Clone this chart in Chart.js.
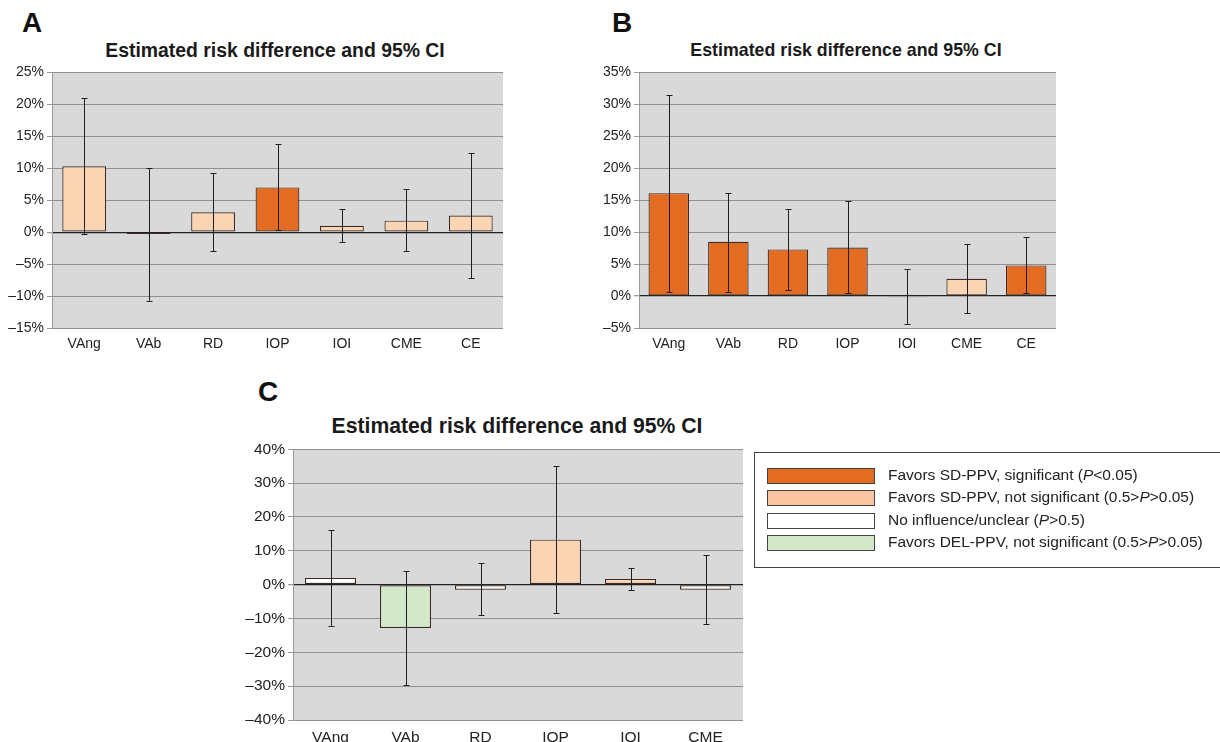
<!DOCTYPE html>
<html>
<head>
<meta charset="utf-8">
<script src="https://cdn.jsdelivr.net/npm/chart.js@4.4.0/dist/chart.umd.min.js"></script>
<style>
  body { margin:0; width:1220px; height:742px; overflow:hidden; background:#fff;
         font-family:"Liberation Sans", Arial, sans-serif; position:relative; }
  .abs { position:absolute; }
  .letter { font-weight:bold; font-size:28px; color:#111; }
  .title { font-weight:bold; color:#1a1a1a; text-align:center; white-space:nowrap; }
  canvas { position:absolute; }
  #legend { left:754px; top:452px; width:470px; height:116px; border:1px solid #444; box-sizing:border-box; }
  .row { position:absolute; left:12px; height:16px; font-size:15.5px; color:#222; white-space:nowrap; }
  .sw { position:absolute; left:0; top:0; width:108px; height:16px; border:1px solid #444; box-sizing:border-box; }
  .row span.t { position:absolute; left:121px; top:-2px; }
</style>
</head>
<body>
<div class="abs letter" style="left:22px;top:7px;">A</div>
<div class="abs letter" style="left:612px;top:7px;">B</div>
<div class="abs letter" style="left:258px;top:376px;">C</div>

<div class="abs title" style="left:75px;width:400px;top:39px;font-size:19.4px;">Estimated risk difference and 95% CI</div>
<div class="abs title" style="left:646px;width:400px;top:40px;font-size:17.8px;">Estimated risk difference and 95% CI</div>
<div class="abs title" style="left:317px;width:400px;top:414px;font-size:21.2px;">Estimated risk difference and 95% CI</div>

<canvas id="cA" style="left:0;top:61px;" width="520" height="297"></canvas>
<canvas id="cB" style="left:590px;top:61px;" width="483" height="297"></canvas>
<canvas id="cC" style="left:240px;top:437px;" width="520" height="313"></canvas>

<div id="legend" class="abs"></div>

<script>
// categories
var catsAB = ["VAng", "VAb", "RD", "IOP", "IOI", "CME", "CE"];
var catsC = ["VAng", "VAb", "RD", "IOP", "IOI", "CME"];

// panel A (risk difference, %)
var estA  = [10.3, -0.3, 3.1, 7.0, 1.0, 1.8, 2.6];
var lowA  = [-0.3, -10.7, -3.0, 0.3, -1.5, -3.0, -7.2];
var highA = [21.0, 10.0, 9.2, 13.8, 3.7, 6.7, 12.4];
var grpA  = ["ns", "none", "ns", "sig", "ns", "ns", "ns"];

// panel B
var estB  = [16.1, 8.5, 7.3, 7.6, -0.2, 2.7, 4.8];
var lowB  = [0.7, 0.7, 1.0, 0.4, -4.4, -2.7, 0.4];
var highB = [31.4, 16.2, 13.6, 14.8, 4.3, 8.2, 9.3];
var grpB  = ["sig", "sig", "sig", "sig", "none", "ns", "sig"];

// panel C
var estC  = [2.0, -12.8, -1.5, 13.3, 1.7, -1.5];
var lowC  = [-12.1, -29.8, -9.1, -8.5, -1.7, -11.7];
var highC = [16.1, 3.9, 6.5, 35.2, 5.0, 8.8];
var grpC  = ["none", "del", "none", "ns", "ns", "none"];

// legend
var legendKeys = ["sig", "ns", "none", "del"];
var legendText = [
	"Favors SD-PPV, significant (<i>P</i>&lt;0.05)",
	"Favors SD-PPV, not significant (0.5&gt;<i>P</i>&gt;0.05)",
	"No influence/unclear (<i>P</i>&gt;0.5)",
	"Favors DEL-PPV, not significant (0.5&gt;<i>P</i>&gt;0.05)"
];

var fillOf = {
	sig: "#E46C22",
	ns: "#FBD4B4",
	none: "#FFFFFF",
	del: "#D3E7C9"
};
var swatchOf = {
	sig: "#E46C22",
	ns: "#F9C5A0",
	none: "#FFFFFF",
	del: "#D3E7C9"
};

var plotBg = {
	id: "plotBg",
	beforeDraw: function(chart){
		var a = chart.chartArea, c = chart.ctx;
		c.save();
		c.fillStyle = "#D9D9D9";
		c.fillRect(a.left, a.top, a.right - a.left, a.bottom - a.top);
		c.restore();
	}
};

var errBars = {
	id: "errBars",
	afterDatasetsDraw: function(chart, args, opts){
		var c = chart.ctx;
		var y = chart.scales.y;
		var meta = chart.getDatasetMeta(0);
		c.save();
		c.strokeStyle = "#1e1e1e";
		c.lineWidth = 1;
		meta.data.forEach(function(bar, i){
			var x = Math.round(bar.x) + 0.5;
			var yl = Math.round(y.getPixelForValue(opts.low[i])) + 0.5;
			var yh = Math.round(y.getPixelForValue(opts.high[i])) + 0.5;
			c.beginPath();
			c.moveTo(x, yh); c.lineTo(x, yl);
			c.moveTo(x - 3, yh); c.lineTo(x + 3, yh);
			c.moveTo(x - 3, yl); c.lineTo(x + 3, yl);
			c.stroke();
		});
		c.restore();
	}
};

function riskChart(id, cats, est, low, high, grp, yMin, yMax, step, yw, fs){
	var ctx = document.getElementById(id);
	var config = {
		type: "bar",
		data: {
			labels: cats,
			datasets: [
				{
					data: est,
					backgroundColor: grp.map(function(g){ return fillOf[g]; }),
					borderColor: "#3a2c24",
					borderWidth: 1.2,
					borderSkipped: false,
					categoryPercentage: 1,
					barPercentage: 0.68
				}
			]
		},
		options: {
			responsive: false,
			animation: false,
			layout: { padding: { top: 10, right: 17, left: 0, bottom: 0 } },
			plugins: {
				legend: { display: false },
				tooltip: { enabled: false },
				errBars: { low: low, high: high }
			},
			scales: {
				x: {
					grid: { display: false },
					border: { display: false },
					ticks: { color: "#222", font: { family: "Liberation Sans", size: fs }, padding: 0 },
					afterFit: function(s){ s.height = 30; }
				},
				y: {
					min: yMin,
					max: yMax,
					border: { color: "#9a9a9a" },
					grid: {
						color: function(c){ return c.tick && c.tick.value === 0 ? "#222" : "#8f8f8f"; },
						lineWidth: function(c){ return c.tick && c.tick.value === 0 ? 1.3 : 1; },
						tickLength: 5,
						tickColor: "#9a9a9a"
					},
					ticks: {
						stepSize: step,
						color: "#222",
						padding: 3,
						font: { family: "Liberation Sans", size: fs },
						callback: function(v){ return (v < 0 ? "\u2013" + Math.abs(v) : v) + "%"; }
					},
					afterFit: function(s){ s.width = yw; }
				}
			}
		},
		plugins: [plotBg, errBars]
	};
	return new Chart(ctx, config);
}

riskChart("cA", catsAB, estA, lowA, highA, grpA, -15, 25, 5, 52, 14);
riskChart("cB", catsAB, estB, lowB, highB, grpB, -5, 35, 5, 49, 14);
riskChart("cC", catsC, estC, lowC, highC, grpC, -40, 40, 10, 53, 15.5);

var lg = document.getElementById("legend");
legendKeys.forEach(function(k, i){
	var row = document.createElement("div");
	row.className = "row";
	row.style.top = (15 + i * 22.3) + "px";
	row.innerHTML = '<div class="sw" style="background:' + swatchOf[k] + '"></div><span class="t">' + legendText[i] + '</span>';
	lg.appendChild(row);
});
</script>
</body>
</html>
